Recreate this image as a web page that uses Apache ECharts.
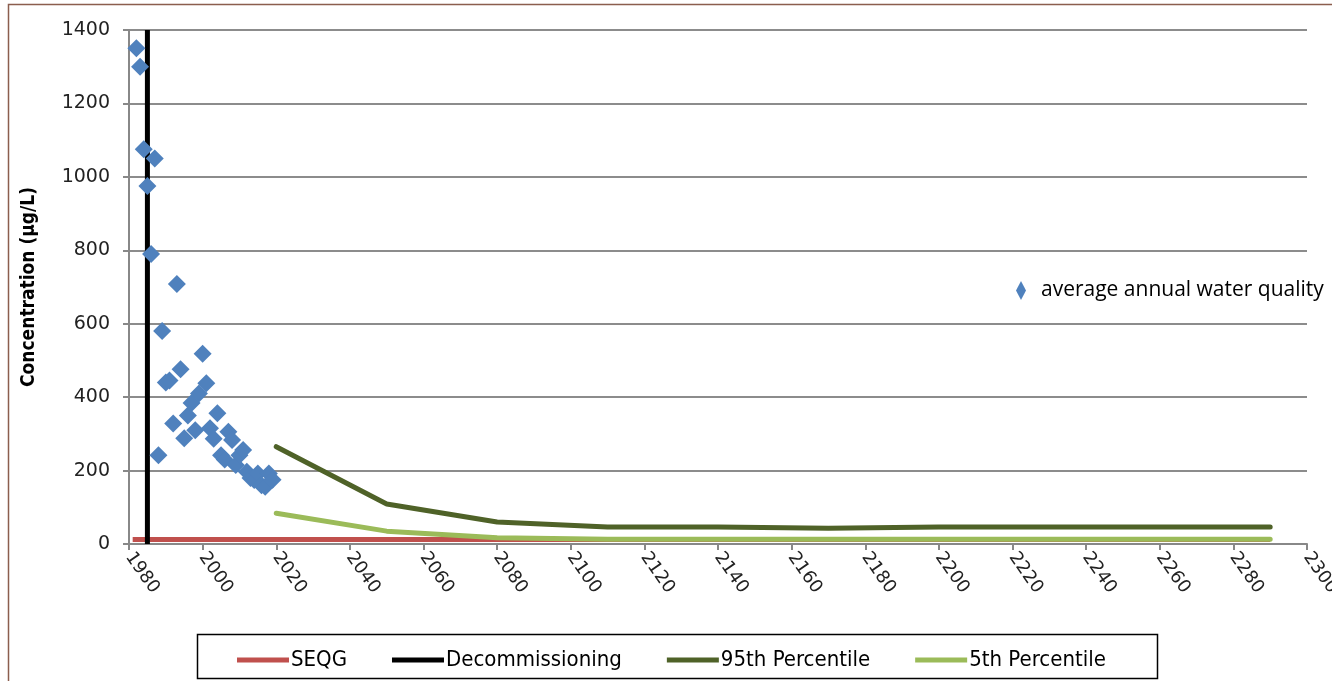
<!DOCTYPE html>
<html>
<head>
<meta charset="utf-8">
<script src="https://cdn.jsdelivr.net/npm/echarts@6/dist/echarts.min.js"></script>
<style>
  html, body { margin: 0; padding: 0; background: #fff; }
  #chart { width: 1332px; height: 681px; }
</style>
</head>
<body>
<div id="chart"></div>
<script>
// ---- Data ----
const obsYears = [1982, 1983, 1984, 1985, 1986, 1987, 1988, 1989, 1990, 1991, 1992, 1993, 1994, 1995, 1996, 1997, 1998, 1999, 2000, 2001, 2002, 2003, 2004, 2005, 2006, 2007, 2008, 2009, 2010, 2011, 2012, 2013, 2014, 2015, 2016, 2017, 2018, 2019];
const obsValues = [1350, 1300, 1075, 975, 790, 1050, 242, 580, 440, 445, 328, 708, 476, 288, 350, 384, 310, 410, 518, 438, 315, 287, 356, 242, 230, 306, 283, 215, 242, 256, 197, 180, 174, 192, 160, 156, 192, 175];

const projYears = [2020, 2050, 2080, 2110, 2140, 2170, 2200, 2230, 2260, 2290];
const p95Values = [265, 109, 60, 46, 46, 43, 46, 46, 46, 46];
const p5Values  = [84, 35, 17, 13, 13, 13, 13, 13, 13, 13];

const seqgYears = [1981, 2290];
const seqgValue = 12;

const decommYear = 1985;
const yRange = [0, 1400];

const xTickMin = 1980, xTickMax = 2300, xTickStep = 20;
const yTickMin = 0, yTickMax = 1400, yTickStep = 200;

// ---- Build series data ----
const pair = (xs, ys) => xs.map((x, i) => [x, ys[i]]);
const obsData = pair(obsYears, obsValues);
const p95Data = pair(projYears, p95Values);
const p5Data = pair(projYears, p5Values);
const seqgData = seqgYears.map(x => [x, seqgValue]);
const decommData = yRange.map(v => [decommYear, v]);

const narrow = "'DejaVu Sans Condensed', 'Liberation Sans Narrow', sans-serif";

const chart = echarts.init(document.getElementById('chart'), null, { renderer: 'canvas' });
chart.setOption({
  animation: false,
  backgroundColor: '#ffffff',
  graphic: [
    { type: 'rect', shape: { x: 8.5, y: 4.5, width: 1340, height: 700 },
      style: { fill: 'none', stroke: '#8B5E4E', lineWidth: 1.5 }, silent: true, z: -10 },
    { type: 'rect', shape: { x: 197.5, y: 634.5, width: 960, height: 44 },
      style: { fill: '#fff', stroke: '#000', lineWidth: 1.5 }, silent: true, z: -5 }
  ],
  grid: { left: 129, right: 25, top: 30, bottom: 137, containLabel: false, outerBoundsMode: 'none' },
  xAxis: {
    type: 'value', min: xTickMin, max: xTickMax, interval: xTickStep,
    axisLine: { show: true, onZero: false, lineStyle: { color: '#888', width: 2 } },
    axisTick: { show: true, length: 6, lineStyle: { color: '#888', width: 2 } },
    splitLine: { show: false },
    axisLabel: { rotate: -55, color: '#222', fontSize: 18, fontFamily: 'DejaVu Sans', margin: 10,
      formatter: v => String(v) }
  },
  yAxis: {
    type: 'value', min: yTickMin, max: yTickMax, interval: yTickStep,
    name: 'Concentration (µg/L)', nameLocation: 'middle', nameGap: 90,
    nameTextStyle: { fontSize: 19, fontWeight: 'bold', color: '#000', fontFamily: narrow },
    axisLine: { show: true, lineStyle: { color: '#888', width: 2 } },
    axisTick: { show: true, length: 6, lineStyle: { color: '#888', width: 2 } },
    splitLine: { show: true, lineStyle: { color: '#8c8c8c', width: 2 } },
    axisLabel: { color: '#222', fontSize: 19, fontFamily: 'DejaVu Sans', margin: 19,
      formatter: v => String(v) }
  },
  legend: [
    {
      data: ['SEQG', 'Decommissioning', '95th Percentile', '5th Percentile'],
      left: 232, top: 644, itemWidth: 52, itemHeight: 5, itemGap: 45, icon: 'rect',
      textStyle: { fontSize: 22, color: '#000', fontFamily: narrow, padding: [0, 0, 0, -3] },
      selectedMode: false
    },
    {
      data: ['average annual water quality'],
      left: 1011, top: 275, itemWidth: 10, itemHeight: 19, icon: 'diamond',
      textStyle: { fontSize: 21, color: '#000', fontFamily: "'Open Sans', sans-serif", padding: [0, 0, 0, 10] },
      selectedMode: false
    }
  ],
  series: [
    { name: 'SEQG', type: 'line', data: seqgData, symbol: 'none',
      lineStyle: { color: '#C0504D', width: 5 }, itemStyle: { color: '#C0504D' }, z: 2 },
    { name: 'Decommissioning', type: 'line', data: decommData, symbol: 'none',
      lineStyle: { color: '#000', width: 5 }, itemStyle: { color: '#000' }, z: 3 },
    { name: '95th Percentile', type: 'line', data: p95Data, symbol: 'none',
      lineStyle: { color: '#4F6228', width: 5, cap: 'round' }, itemStyle: { color: '#4F6228' }, z: 4 },
    { name: '5th Percentile', type: 'line', data: p5Data, symbol: 'none',
      lineStyle: { color: '#9BBB59', width: 5, cap: 'round' }, itemStyle: { color: '#9BBB59' }, z: 5 },
    { name: 'average annual water quality', type: 'scatter', data: obsData,
      symbol: 'diamond', symbolSize: [18, 18], itemStyle: { color: '#4F81BD', opacity: 1 }, z: 6 }
  ]
});
</script>
</body>
</html>
